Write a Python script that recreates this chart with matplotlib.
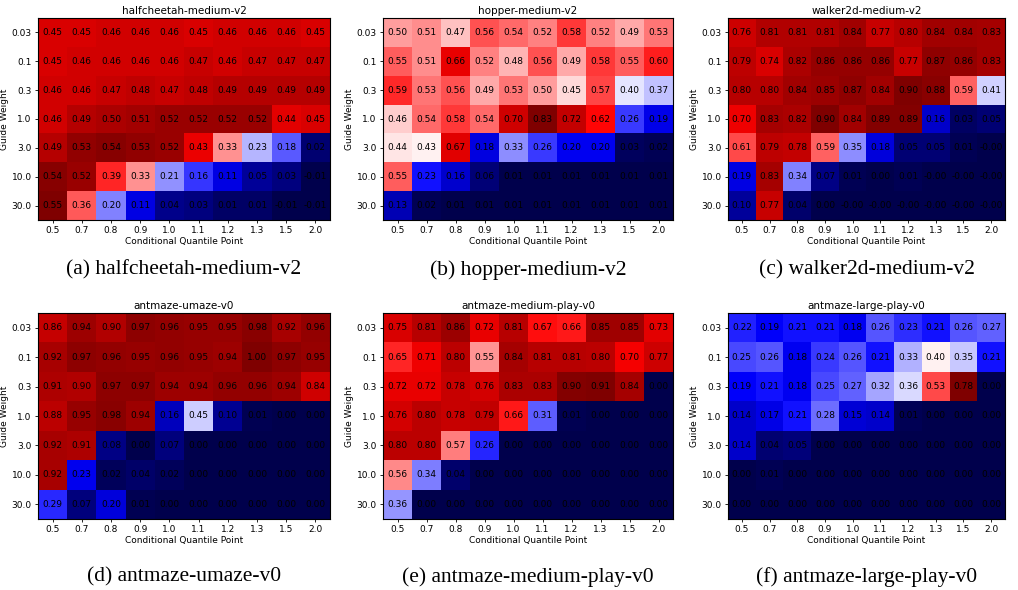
import matplotlib
matplotlib.use("Agg")
import matplotlib.pyplot as plt
import numpy as np

guide_weights = ["0.03", "0.1", "0.3", "1.0", "3.0", "10.0", "30.0"]
quantile_points = ["0.5", "0.7", "0.8", "0.9", "1.0", "1.1", "1.2", "1.3", "1.5", "2.0"]

halfcheetah_medium = [
    [0.45, 0.45, 0.46, 0.46, 0.46, 0.45, 0.46, 0.46, 0.46, 0.45],
    [0.45, 0.46, 0.46, 0.46, 0.46, 0.47, 0.46, 0.47, 0.47, 0.47],
    [0.46, 0.46, 0.47, 0.48, 0.47, 0.48, 0.49, 0.49, 0.49, 0.49],
    [0.46, 0.49, 0.50, 0.51, 0.52, 0.52, 0.52, 0.52, 0.44, 0.45],
    [0.49, 0.53, 0.54, 0.53, 0.52, 0.43, 0.33, 0.23, 0.18, 0.02],
    [0.54, 0.52, 0.39, 0.33, 0.21, 0.16, 0.11, 0.05, 0.03, -0.01],
    [0.55, 0.36, 0.20, 0.11, 0.04, 0.03, 0.01, 0.01, -0.01, -0.01],
]
hopper_medium = [
    [0.50, 0.51, 0.47, 0.56, 0.54, 0.52, 0.58, 0.52, 0.49, 0.53],
    [0.55, 0.51, 0.66, 0.52, 0.48, 0.56, 0.49, 0.58, 0.55, 0.60],
    [0.59, 0.53, 0.56, 0.49, 0.53, 0.50, 0.45, 0.57, 0.40, 0.37],
    [0.46, 0.54, 0.58, 0.54, 0.70, 0.83, 0.72, 0.62, 0.26, 0.19],
    [0.44, 0.43, 0.67, 0.18, 0.33, 0.26, 0.20, 0.20, 0.03, 0.02],
    [0.55, 0.23, 0.16, 0.06, 0.01, 0.01, 0.01, 0.01, 0.01, 0.01],
    [0.13, 0.02, 0.01, 0.01, 0.01, 0.01, 0.01, 0.01, 0.01, 0.01],
]
walker2d_medium = [
    [0.76, 0.81, 0.81, 0.81, 0.84, 0.77, 0.80, 0.84, 0.84, 0.83],
    [0.79, 0.74, 0.82, 0.86, 0.86, 0.86, 0.77, 0.87, 0.86, 0.83],
    [0.80, 0.80, 0.84, 0.85, 0.87, 0.84, 0.90, 0.88, 0.59, 0.41],
    [0.70, 0.83, 0.82, 0.90, 0.84, 0.89, 0.89, 0.16, 0.03, 0.05],
    [0.61, 0.79, 0.78, 0.59, 0.35, 0.18, 0.05, 0.05, 0.01, -0.001],
    [0.19, 0.83, 0.34, 0.07, 0.01, 0.00, 0.01, -0.001, -0.001, -0.001],
    [0.10, 0.77, 0.04, 0.00, -0.001, -0.001, -0.001, -0.001, -0.001, -0.001],
]
antmaze_umaze = [
    [0.86, 0.94, 0.90, 0.97, 0.96, 0.95, 0.95, 0.98, 0.92, 0.96],
    [0.92, 0.97, 0.96, 0.95, 0.96, 0.95, 0.94, 1.00, 0.97, 0.95],
    [0.91, 0.90, 0.97, 0.97, 0.94, 0.94, 0.96, 0.96, 0.94, 0.84],
    [0.88, 0.95, 0.98, 0.94, 0.16, 0.45, 0.10, 0.01, 0.00, 0.00],
    [0.92, 0.91, 0.08, 0.00, 0.07, 0.00, 0.00, 0.00, 0.00, 0.00],
    [0.92, 0.23, 0.02, 0.04, 0.02, 0.00, 0.00, 0.00, 0.00, 0.00],
    [0.29, 0.07, 0.20, 0.01, 0.00, 0.00, 0.00, 0.00, 0.00, 0.00],
]
antmaze_medium_play = [
    [0.75, 0.81, 0.86, 0.72, 0.81, 0.67, 0.66, 0.85, 0.85, 0.73],
    [0.65, 0.71, 0.80, 0.55, 0.84, 0.81, 0.81, 0.80, 0.70, 0.77],
    [0.72, 0.72, 0.78, 0.76, 0.83, 0.83, 0.90, 0.91, 0.84, 0.00],
    [0.76, 0.80, 0.78, 0.79, 0.66, 0.31, 0.01, 0.00, 0.00, 0.00],
    [0.80, 0.80, 0.57, 0.26, 0.00, 0.00, 0.00, 0.00, 0.00, 0.00],
    [0.56, 0.34, 0.04, 0.00, 0.00, 0.00, 0.00, 0.00, 0.00, 0.00],
    [0.36, 0.00, 0.00, 0.00, 0.00, 0.00, 0.00, 0.00, 0.00, 0.00],
]
antmaze_large_play = [
    [0.22, 0.19, 0.21, 0.21, 0.18, 0.26, 0.23, 0.21, 0.26, 0.27],
    [0.25, 0.26, 0.18, 0.24, 0.26, 0.21, 0.33, 0.40, 0.35, 0.21],
    [0.19, 0.21, 0.18, 0.25, 0.27, 0.32, 0.36, 0.53, 0.78, 0.00],
    [0.14, 0.17, 0.21, 0.28, 0.15, 0.14, 0.01, 0.00, 0.00, 0.00],
    [0.14, 0.04, 0.05, 0.00, 0.00, 0.00, 0.00, 0.00, 0.00, 0.00],
    [0.00, 0.01, 0.00, 0.00, 0.00, 0.00, 0.00, 0.00, 0.00, 0.00],
    [0.00, 0.00, 0.00, 0.00, 0.00, 0.00, 0.00, 0.00, 0.00, 0.00],
]

panels = [
    ("halfcheetah-medium-v2", "(a)", halfcheetah_medium),
    ("hopper-medium-v2", "(b)", hopper_medium),
    ("walker2d-medium-v2", "(c)", walker2d_medium),
    ("antmaze-umaze-v0", "(d)", antmaze_umaze),
    ("antmaze-medium-play-v0", "(e)", antmaze_medium_play),
    ("antmaze-large-play-v0", "(f)", antmaze_large_play),
]

W, H = 1018, 590
fig = plt.figure(figsize=(W / 100, H / 100), dpi=100)

# pixel boxes of the heatmaps (left, top, right, bottom)
lefts = [38, 383, 728]
rights = [330, 673, 1005]
tops = [18, 313]
bottoms = [220, 519]
caption_y = [270, 577]

for i, (name, tag, data) in enumerate(panels):
    r, c = divmod(i, 3)
    l, rt, t, b = lefts[c], rights[c], tops[r], bottoms[r]
    ax = fig.add_axes([l / W, 1 - b / H, (rt - l) / W, (b - t) / H])
    vals = np.array(data)
    ax.imshow(vals, cmap="seismic", aspect="auto")
    for yi in range(vals.shape[0]):
        for xi in range(vals.shape[1]):
            ax.text(xi, yi, f"{vals[yi, xi]:.2f}", ha="center", va="center",
                    fontsize=6.5, color="black")
    ax.set_xticks(range(len(quantile_points)))
    ax.set_xticklabels(quantile_points, fontsize=6.5)
    ax.set_yticks(range(len(guide_weights)))
    ax.set_yticklabels(guide_weights, fontsize=6.5)
    ax.tick_params(length=2.5, width=0.6, pad=2)
    ax.set_xlabel("Conditional Quantile Point", fontsize=6.5, labelpad=1)
    ax.set_ylabel("Guide Weight", fontsize=6.5, labelpad=2)
    ax.set_title(name, fontsize=7.5, pad=3)
    fig.text((l + rt) / 2 / W, 1 - caption_y[r] / H, f"{tag} {name}",
             ha="center", va="center", fontsize=15.5, family="Liberation Serif")

fig.savefig("out.png", dpi=100)
